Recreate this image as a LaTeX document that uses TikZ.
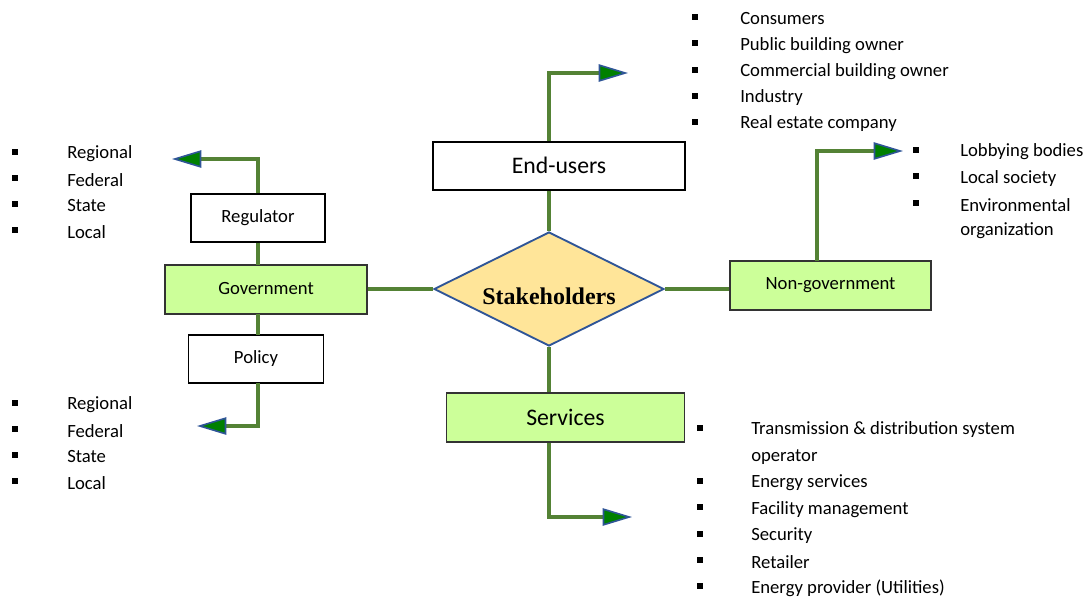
\documentclass[tikz,border=0pt]{standalone}
\usepackage{fontspec}
\setmainfont{Carlito}
\newfontfamily\tnr{Liberation Serif}
\usetikzlibrary{arrows.meta,shapes.geometric}
\definecolor{lg}{HTML}{548235}
\definecolor{boxgreen}{HTML}{CCFF99}
\definecolor{dia}{HTML}{FFE599}
\definecolor{dblue}{HTML}{2F5597}
\definecolor{tipgreen}{HTML}{008000}
\tikzset{
  wbox/.style={draw=black, fill=white, line width=0.8pt, inner sep=0pt},
  gbox/.style={draw=black!80, fill=boxgreen, line width=0.8pt, inner sep=0pt},
  conn/.style={draw=lg, line width=3pt},
  arr/.style={conn, -{Triangle[length=22pt,width=13pt,fill=tipgreen,color=dblue,line width=1.2pt]}},
  bul/.style={fill=black, minimum size=4.5pt, inner sep=0pt},
  item/.style={anchor=west, inner sep=0pt, font=\fontsize{14}{16}\selectfont},
}
\begin{document}
\begin{tikzpicture}[x=0.75pt,y=-0.75pt]
\useasboundingbox (0,0) rectangle (1088,597);

% main nodes
\node[diamond, draw=dblue, fill=dia, line width=1.4pt, minimum width=172.5pt, minimum height=85.5pt, inner sep=0pt, aspect=2,
      text height=23pt, text depth=0pt,
      font=\tnr\bfseries\fontsize{18}{20}\selectfont] (sh) at (549,289) {Stakeholders};
\node[wbox, minimum width=189pt, minimum height=36pt, font=\fontsize{17.8}{20}\selectfont] (eu) at (559,166) {\raisebox{1pt}{End-users}};
\node[gbox, minimum width=179pt, minimum height=36.75pt, font=\fontsize{17.8}{20}\selectfont] (sv) at (565.5,417.5) {Services};
\node[gbox, minimum width=151.5pt, minimum height=36.75pt, font=\fontsize{14}{16}\selectfont] (gov) at (266,289.5) {\raisebox{2pt}{Government}};
\node[gbox, minimum width=150.75pt, minimum height=36.75pt, font=\fontsize{14}{16}\selectfont] (ngo) at (830.5,285.5) {\raisebox{2pt}{Non-government}};
\node[wbox, minimum width=100.5pt, minimum height=36pt, font=\fontsize{14}{16}\selectfont] (reg) at (258,218) {Regulator};
\node[wbox, minimum width=101.25pt, minimum height=36pt, font=\fontsize{14}{16}\selectfont] (pol) at (256,359) {\raisebox{2pt}{Policy}};

% free ends and corners
\coordinate (eutip) at (628,73);
\coordinate (svtip) at (632,517);
\coordinate (ngotip) at (903,151);
\coordinate (regtip) at (172,159);
\coordinate (poltip) at (197,426);
\coordinate (ngoup) at (817,261);
\coordinate (govtop) at (258,265);
\coordinate (govbot) at (258,314);
\coordinate (polbot) at (258,383);
\coordinate (poltop) at (258,335);

% connectors
\draw[conn] (sh.north) -- (sh.north |- eu.south);
\draw[conn] (sh.south) -- (sh.south |- sv.north);
\draw[conn] (sh.west) -- (gov.east |- sh.west);
\draw[conn] (sh.east) -- (ngo.west |- sh.east);
\draw[arr] (eu.north -| sh.north) |- (eutip);
\draw[arr] (sv.south -| sh.south) |- (svtip);
\draw[arr] (ngoup) |- (ngotip);
\draw[conn] (reg.south) -- (govtop);
\draw[arr] (reg.north) |- (regtip);
\draw[conn] (govbot) -- (poltop);
\draw[arr] (polbot) |- (poltip);

% lists
\foreach \t [count=\i] in {Consumers,Public building owner,Commercial building owner,Industry,Real estate company}{
  \pgfmathsetmacro\yy{19+26.25*(\i-1)}
  \node[bul] (eub\i) at (695,\yy-2) {};
  \node[item] (eui\i) at (740,\yy) {\t};
}
\foreach \t [count=\i] in {Lobbying bodies,Local society,Environmental}{
  \pgfmathsetmacro\yy{152+26.3*(\i-1)}
  \node[bul] (ngb\i) at (916,\yy-2) {};
  \node[item] (ngi\i) at (960,\yy) {\t};
}
\node[item] (ngi4) at (960,231) {organization};
\foreach \t [count=\i] in {Regional,Federal,State,Local}{
  \pgfmathsetmacro\yy{154+26*(\i-1)}
  \node[bul] (rgb\i) at (15,\yy-2) {};
  \node[item] (rgi\i) at (67,\yy) {\t};
  \pgfmathsetmacro\zz{405+26*(\i-1)}
  \node[bul] (plb\i) at (15,\zz-2) {};
  \node[item] (pli\i) at (67,\zz) {\t};
}
\node[bul] (svb1) at (700,428) {};
\node[item] (svi1) at (751,430) {Transmission \& distribution system};
\node[item] (svi1b) at (751,457) {operator};
\foreach \t [count=\i from 2] in {Energy services,Facility management,Security,Retailer,Energy provider (Utilities)}{
  \pgfmathsetmacro\yy{483+26.25*(\i-2)}
  \node[bul] (svb\i) at (700,\yy-2) {};
  \node[item] (svi\i) at (751,\yy) {\t};
}
\end{tikzpicture}
\end{document}
